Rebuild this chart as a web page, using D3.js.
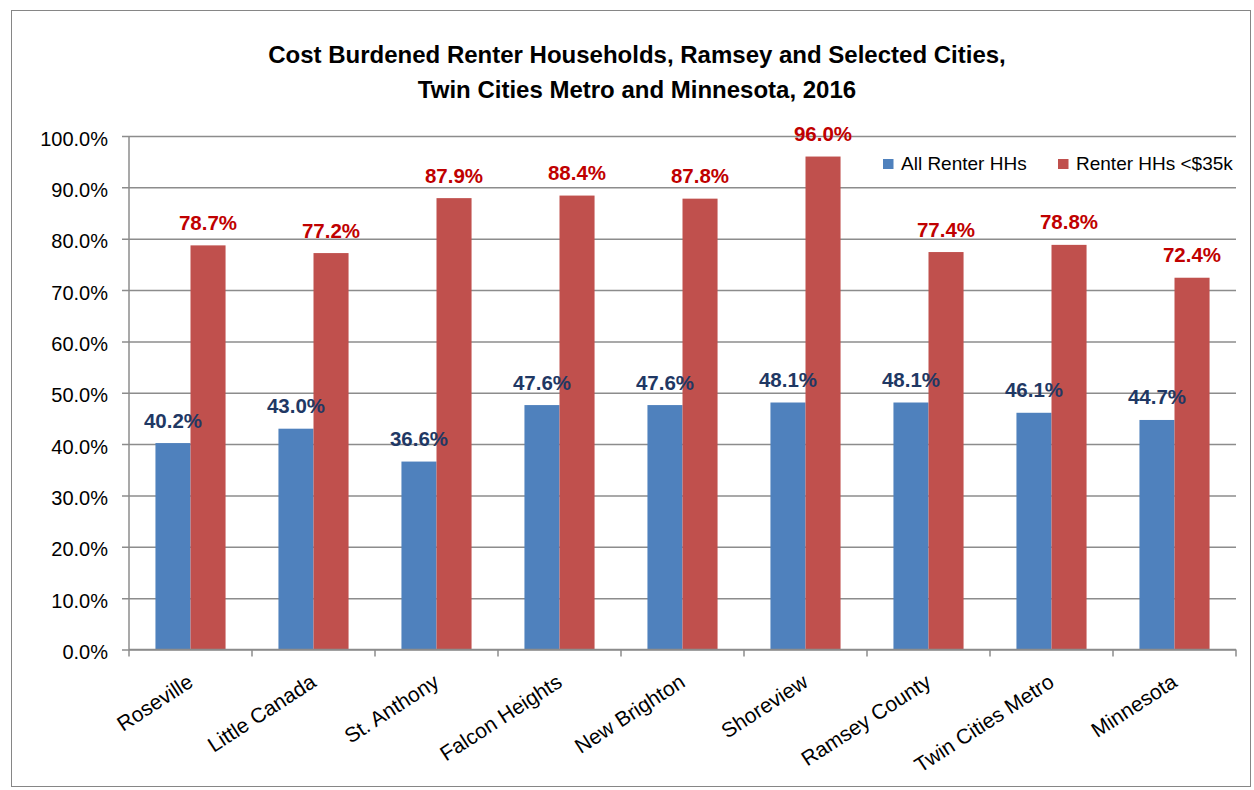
<!DOCTYPE html>
<html>
<head>
<meta charset="utf-8">
<script src="https://cdnjs.cloudflare.com/ajax/libs/d3/7.8.5/d3.min.js"></script>
<style>
    body { margin: 0; background: #fff; }
    text { font-family: "Liberation Sans", Arial, sans-serif; }
</style>
</head>
<body>
<div id="plot"></div>
<script>
    // data
    var places = ["Roseville", "Little Canada", "St. Anthony", "Falcon Heights", "New Brighton",
        "Shoreview", "Ramsey County", "Twin Cities Metro", "Minnesota"];
    var allRenters = [40.2, 43.0, 36.6, 47.6, 47.6, 48.1, 48.1, 46.1, 44.7];
    var lowIncomeRenters = [78.7, 77.2, 87.9, 88.4, 87.8, 96.0, 77.4, 78.8, 72.4];
    var seriesNames = ["All Renter HHs", "Renter HHs <$35k"];
    var yTicks = [0, 10, 20, 30, 40, 50, 60, 70, 80, 90, 100];

    var colors = ["#4F81BD", "#C0504D"];
    var labelColors = ["#1F3864", "#C00000"];

    var W = 1254, H = 790;
    var plot = { left: 129, right: 1236, top: 136, bottom: 649.5 };

    var svg = d3.select("#plot").append("svg")
        .attr("width", W)
        .attr("height", H);

    // chart border
    svg.append("rect")
        .attr("x", 11.5).attr("y", 10.5)
        .attr("width", 1239).attr("height", 776)
        .attr("fill", "#fff")
        .attr("stroke", "#868686")
        .attr("stroke-width", 1);

    var x0 = d3.scaleBand()
        .domain(places)
        .range([plot.left, plot.right])
        .paddingInner(0.43)
        .paddingOuter(0.215);

    var x1 = d3.scaleBand()
        .domain([0, 1])
        .range([0, x0.bandwidth()]);

    var yScale = d3.scaleLinear()
        .domain([0, 100])
        .range([plot.bottom, plot.top]);

    // title
    var title = svg.append("text")
        .attr("text-anchor", "middle")
        .style("font-size", "24px")
        .style("font-weight", "bold");
    title.append("tspan").attr("x", 637).attr("y", 63)
        .text("Cost Burdened Renter Households, Ramsey and Selected Cities,");
    title.append("tspan").attr("x", 637).attr("y", 98)
        .text("Twin Cities Metro and Minnesota, 2016");

    // y axis with gridlines
    var yAxis = svg.append("g")
        .attr("transform", "translate(" + plot.left + ",0)")
        .call(d3.axisLeft(yScale)
            .tickValues(yTicks)
            .tickSize(-(plot.right - plot.left))
            .tickPadding(21)
            .tickFormat(function (d) { return d.toFixed(1) + "%"; }));
    yAxis.select(".domain").remove();
    yAxis.selectAll(".tick line")
        .attr("x1", -7)
        .attr("stroke", "#8c8c8c")
        .attr("stroke-width", 1.5);
    yAxis.selectAll(".tick text")
        .attr("dy", "0.45em")
        .style("font-size", "20px")
        .style("fill", "#000");

    svg.append("line")
        .attr("x1", plot.left).attr("x2", plot.left)
        .attr("y1", plot.top).attr("y2", plot.bottom)
        .attr("stroke", "#8c8c8c")
        .attr("stroke-width", 1.5);

    // bars
    var groups = svg.selectAll(".group")
        .data(places)
        .enter().append("g")
        .attr("class", "group")
        .attr("transform", function (d) { return "translate(" + x0(d) + ",0)"; });

    groups.selectAll("rect")
        .data(function (d, i) { return [allRenters[i], lowIncomeRenters[i]]; })
        .enter().append("rect")
        .attr("x", function (d, j) { return x1(j); })
        .attr("width", x1.bandwidth())
        .attr("y", function (d) { return yScale(d); })
        .attr("height", function (d) { return yScale(0) - yScale(d); })
        .attr("fill", function (d, j) { return colors[j]; });

    // x axis
    var xAxis = svg.append("g")
        .attr("transform", "translate(0," + plot.bottom + ")");
    xAxis.append("line")
        .attr("x1", plot.left).attr("x2", plot.right)
        .attr("stroke", "#8c8c8c")
        .attr("stroke-width", 1.5);
    xAxis.selectAll(".xtick")
        .data(d3.range(places.length + 1))
        .enter().append("line")
        .attr("class", "xtick")
        .attr("x1", function (i) { return plot.left + i * x0.step(); })
        .attr("x2", function (i) { return plot.left + i * x0.step(); })
        .attr("y1", 0).attr("y2", 7)
        .attr("stroke", "#8c8c8c")
        .attr("stroke-width", 1.5);
    xAxis.selectAll(".xlabel")
        .data(places)
        .enter().append("text")
        .attr("class", "xlabel")
        .attr("text-anchor", "end")
        .attr("transform", function (d) {
            return "translate(" + (x0(d) + x0.bandwidth() / 2 + 4) + ",36) rotate(-33)";
        })
        .style("font-size", "21px")
        .style("fill", "#000")
        .text(function (d) { return d; });

    // data labels, drawn on top of all bars
    [allRenters, lowIncomeRenters].forEach(function (vals, j) {
        svg.selectAll(".label" + j)
            .data(vals)
            .enter().append("text")
            .attr("class", "label" + j)
            .attr("text-anchor", "middle")
            .attr("x", function (d, i) { return x0(places[i]) + x1(j) + x1.bandwidth() / 2; })
            .attr("y", function (d) { return yScale(d) - 15.5; })
            .style("font-size", "20.5px")
            .style("font-weight", "bold")
            .style("fill", labelColors[j])
            .text(function (d) { return d.toFixed(1) + "%"; });
    });

    // legend
    var legendX = [883, 1058];
    var legend = svg.selectAll(".legend")
        .data(seriesNames)
        .enter().append("g")
        .attr("class", "legend")
        .attr("transform", function (d, i) { return "translate(" + legendX[i] + ",159)"; });
    legend.append("rect")
        .attr("width", 10.5).attr("height", 10)
        .attr("fill", function (d, i) { return colors[i]; });
    legend.append("text")
        .attr("x", 18).attr("y", 11)
        .style("font-size", "19px")
        .style("fill", "#000")
        .text(function (d) { return d; });
</script>
</body>
</html>
